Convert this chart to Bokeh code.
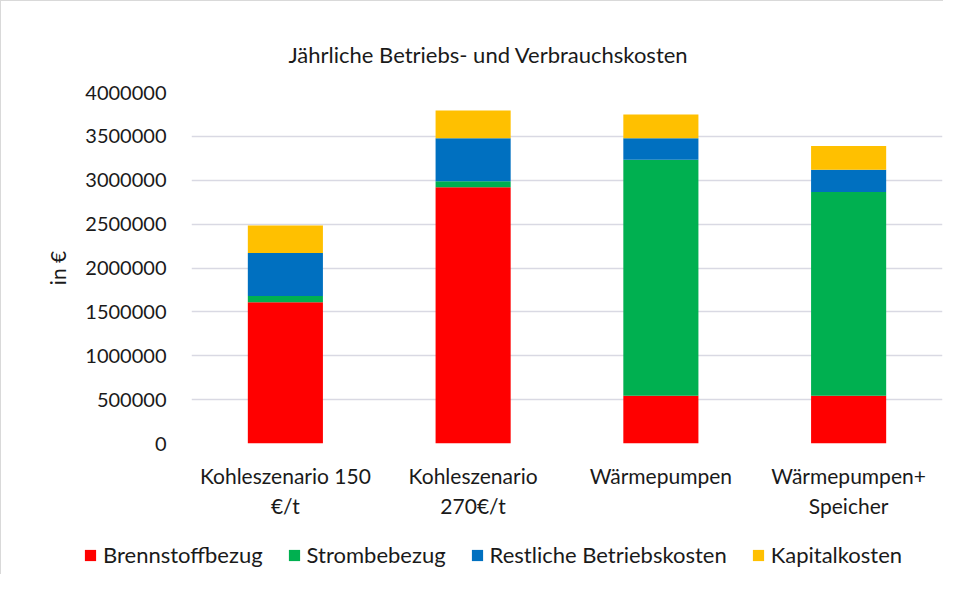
from bokeh.plotting import figure
from bokeh.models import Range1d, FactorRange, FixedTicker, BasicTickFormatter, Legend, LegendItem
from bokeh.embed import file_html
from bokeh.resources import INLINE

categories = ["Kohleszenario 150\n€/t", "Kohleszenario\n270€/t", "Wärmepumpen", "Wärmepumpen+\nSpeicher"]
series = ["Brennstoffbezug", "Strombebezug", "Restliche Betriebskosten", "Kapitalkosten"]
brennstoff = [1610000, 2920000, 545000, 545000]
strom = [70000, 70000, 2690000, 2320000]
restliche = [490000, 490000, 245000, 255000]
kapital = [315000, 315000, 270000, 270000]
colors = ["#FF0000", "#00B050", "#0070C0", "#FFC000"]
y_ticks = [0, 500000, 1000000, 1500000, 2000000, 2500000, 3000000, 3500000, 4000000]

FONT = "Lato"
TXT = "#1a1a1a"
BORDER = "1px solid #d9d9d9"

data = dict(x=categories, b=brennstoff, s=strom, r=restliche, k=kapital)

p = figure(width=943, height=530, x_range=FactorRange(*categories, range_padding=0),
           y_range=Range1d(0, 4000000), output_backend="svg", toolbar_location=None,
           min_border_left=190, min_border_right=2, min_border_top=91, min_border_bottom=88)
p.x_range.factor_padding = 0
p.outline_line_color = None
p.styles = {"border-left": BORDER, "border-top": BORDER}

p.vbar_stack(["b", "s", "r", "k"], x="x", width=0.4, color=colors, line_color=None, source=data)

p.title.text = "Jährliche Betriebs- und Verbrauchskosten"
p.title.text_font = FONT
p.title.text_font_size = "22px"
p.title.text_font_style = "normal"
p.title.text_color = TXT
p.title.align = "left"
p.title.offset = 97
p.title.standoff = 50

p.yaxis.ticker = FixedTicker(ticks=y_ticks)
p.yaxis.formatter = BasicTickFormatter(use_scientific=False)
p.yaxis.axis_line_color = None
p.yaxis.major_tick_line_color = None
p.yaxis.minor_tick_line_color = None
p.yaxis.major_label_text_font = FONT
p.yaxis.major_label_text_font_size = "20px"
p.yaxis.major_label_text_color = TXT
p.yaxis.major_label_standoff = 19
p.yaxis.axis_label = "in €"
p.yaxis.axis_label_text_font = FONT
p.yaxis.axis_label_text_font_size = "21px"
p.yaxis.axis_label_text_font_style = "normal"
p.yaxis.axis_label_text_color = TXT
p.yaxis.axis_label_standoff = 12

p.xaxis.axis_line_color = None
p.xaxis.major_tick_line_color = None
p.xaxis.minor_tick_line_color = None
p.xaxis.major_label_text_font = FONT
p.xaxis.major_label_text_font_size = "21px"
p.xaxis.major_label_text_color = TXT
p.xaxis.major_label_standoff = 13

p.xgrid.grid_line_color = None
p.ygrid.grid_line_color = "#d9d9e3"
p.ygrid.grid_line_width = 1.5

# legend strip below the chart (separate root so its frame is not aligned with the chart)
lf = figure(width=943, height=44, x_range=FactorRange(*categories), y_range=Range1d(-2, -1),
            output_backend="svg", toolbar_location=None, min_border=0)
lf.styles = {"border-left": BORDER}
lf.outline_line_color = None
lf.axis.visible = False
lf.grid.grid_line_color = None
rs = lf.vbar_stack(["b", "s", "r", "k"], x="x", width=0.4, color=colors, line_color=None, source=data)
for r in rs:
    r.visible = False
legend = Legend(items=[LegendItem(label=s, renderers=[r]) for s, r in zip(series, rs)],
                orientation="horizontal", location=(82, 6), padding=0, margin=0,
                spacing=24, glyph_width=14, glyph_height=14, label_standoff=6,
                label_text_font=FONT, label_text_font_size="22px", label_text_color=TXT,
                border_line_color=None, background_fill_alpha=0)
lf.add_layout(legend, "center")

open("out.html", "w").write(file_html((p, lf), INLINE))
